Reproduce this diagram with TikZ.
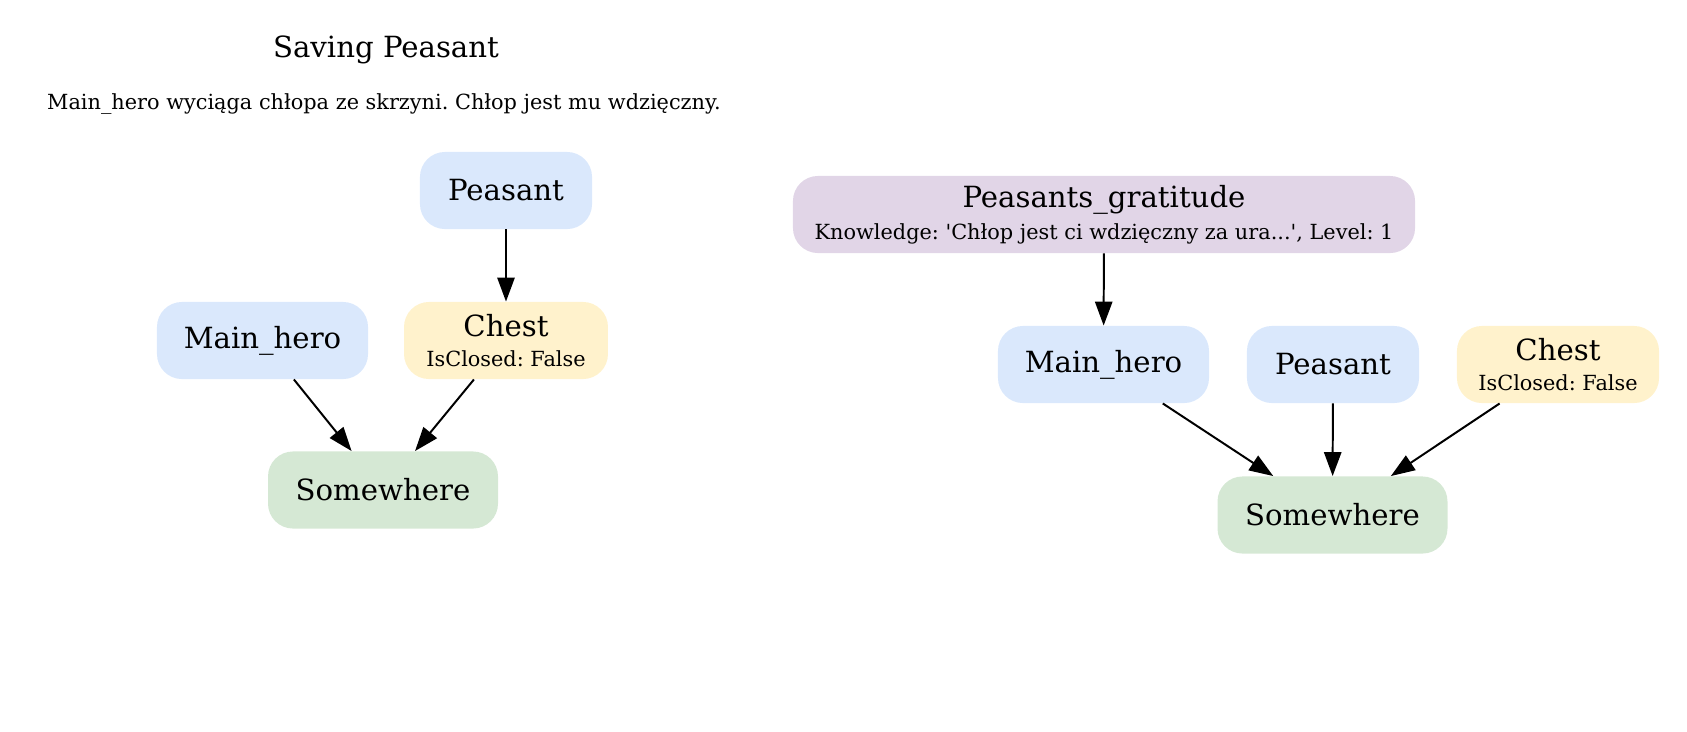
\documentclass[tikz,border=0pt]{standalone}
\usepackage{fontspec}
\setmainfont{DejaVu Serif}
\usetikzlibrary{arrows.meta}
\definecolor{agentblue}{HTML}{DAE8FC}
\definecolor{itemyellow}{HTML}{FFF2CC}
\definecolor{placegreen}{HTML}{D5E8D4}
\definecolor{factpurple}{HTML}{E1D5E7}
\newcommand{\attr}[1]{{\fontsize{10}{12}\selectfont #1}}
\frenchspacing

\begin{document}
\begin{tikzpicture}[x=0.48pt,y=-0.48pt,
  box/.style={rounded corners=12pt, inner sep=0pt, minimum height=37pt, align=center, font=\fontsize{14}{17}\selectfont},
  agent/.style={box, fill=agentblue},
  item/.style={box, fill=itemyellow},
  place/.style={box, fill=placegreen},
  fact/.style={box, fill=factpurple},
  link/.style={-{Triangle[length=11.5pt,width=8.3pt]}, line width=0.95pt}]
\useasboundingbox (0,0) rectangle (1687,731);
% title
\node[font=\fontsize{14}{17}\selectfont, anchor=base] (title) at (386,57) {Saving Peasant};
\node[font=\fontsize{10}{12}\selectfont, anchor=base] (subtitle) at (384,109) {Main\_hero wyciąga chłopa ze skrzyni. Chłop jest mu wdzięczny.};
% before
\node[agent, minimum width=82.6pt] (peasantL) at (506,190.5) {Peasant};
\node[agent, minimum width=101.3pt] (heroL) at (262.5,340.5) {Main\_hero};
\node[item, minimum width=97.9pt] (chestL) at (506,340.5) {Chest\\[-3pt]\attr{IsClosed: False}};
\node[place, minimum width=110.4pt] (placeL) at (383,490) {Somewhere};
\draw[link] (peasantL) -- (chestL);
\draw[link] (heroL) -- (placeL);
\draw[link] (chestL) -- (placeL);
% after
\node[fact, minimum width=298.6pt] (gratitude) at (1104,214.5) {Peasants\_gratitude\\[-1.5pt]\attr{Knowledge: \textquotesingle Chłop jest ci wdzięczny za ura...\textquotesingle, Level: 1}};
\node[agent, minimum width=101.3pt] (heroR) at (1103.5,364.5) {Main\_hero};
\node[agent, minimum width=82.6pt] (peasantR) at (1333,364.5) {Peasant};
\node[item, minimum width=97pt] (chestR) at (1558,364.5) {Chest\\[-3pt]\attr{IsClosed: False}};
\node[place, minimum width=110.4pt] (placeR) at (1332.5,515) {Somewhere};
\draw[link] (gratitude) -- (heroR);
\draw[link] (heroR) -- (placeR);
\draw[link] (peasantR) -- (placeR);
\draw[link] (chestR) -- (placeR);
\end{tikzpicture}
\end{document}
